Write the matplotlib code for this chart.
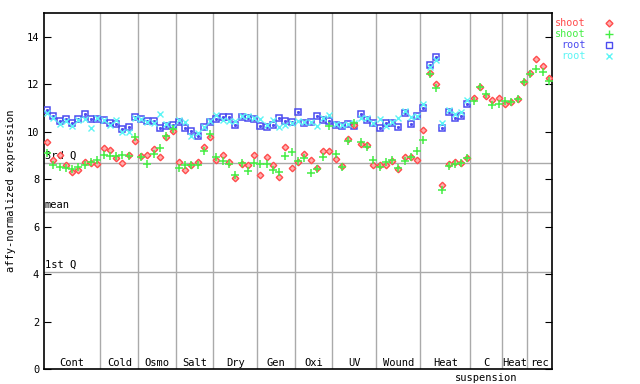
import numpy as np
import matplotlib
matplotlib.use("Agg")
import matplotlib.pyplot as plt
import matplotlib.transforms as mtransforms

plt.rcParams.update({"font.family": "DejaVu Sans Mono", "font.size": 7.5})

RED, GREEN, BLUE, CYAN, GRID = "#ff4c4c", "#44ee44", "#4c4cf0", "#5cf5f5", "#aaaaaa"

# groups and how many samples each holds
groups = ["Cont", "Cold", "Osmo", "Salt", "Dry", "Gen", "Oxi", "UV", "Wound", "Heat", "C\nsuspension", "Heat", "rec"]
group_sizes = [9, 6, 6, 6, 7, 6, 6, 7, 7, 8, 5, 4, 4]

shoot_a = [9.58, 8.80, 9.00, 8.61, 8.30, 8.38, 8.73, 8.68, 8.64,
           9.31, 9.23, 8.89, 8.68, 9.00, 9.59,
           8.99, 9.00, 9.28, 8.94, 9.76, 10.01,
           8.72, 8.38, 8.58, 8.72, 9.37, 9.76,
           8.80, 9.00, 8.72, 8.05, 8.64, 8.58, 9.00,
           8.19, 8.92, 8.58, 8.10, 9.37, 8.47,
           8.72, 9.08, 8.80, 8.49, 9.20, 9.20,
           8.86, 8.55, 9.70, 10.30, 9.48, 9.42, 8.61,
           8.58, 8.58, 8.78, 8.44, 8.94, 8.92, 8.80,
           10.08, 12.47, 12.02, 7.76, 8.63, 8.72, 8.68, 8.90,
           11.43, 11.90, 11.52, 11.35, 11.42,
           11.17, 11.27, 11.39, 12.11,
           12.47, 13.07, 12.78, 12.26]
shoot_b = [9.11, 8.58, 8.52, 8.47, 8.44, 8.52, 8.61, 8.71, 8.80,
           9.01, 8.97, 8.99, 9.03, 8.97, 9.77,
           8.94, 8.64, 9.06, 9.31, 9.80, 10.13,
           8.47, 8.58, 8.58, 8.58, 9.17, 9.90,
           8.94, 8.77, 8.64, 8.16, 8.66, 8.33, 8.66,
           8.64, 8.64, 8.38, 8.30, 8.97, 9.14,
           8.75, 8.89, 8.24, 8.44, 8.94, 10.24,
           9.06, 8.52, 9.62, 10.38, 9.56, 9.34, 8.80,
           8.52, 8.72, 8.80, 8.49, 8.78, 8.92, 9.17,
           9.66, 12.45, 11.84, 7.55, 8.57, 8.65, 8.68, 8.90,
           11.29, 11.89, 11.60, 11.12, 11.18,
           11.28, 11.24, 11.38, 12.10,
           12.45, 12.62, 12.52, 12.12]
root_a = [10.92, 10.66, 10.46, 10.53, 10.37, 10.52, 10.74, 10.55, 10.55,
          10.49, 10.35, 10.31, 10.13, 10.21, 10.63,
          10.52, 10.46, 10.46, 10.16, 10.24, 10.30,
          10.41, 10.16, 10.04, 9.82, 10.18, 10.41,
          10.55, 10.62, 10.62, 10.30, 10.63, 10.58, 10.55,
          10.24, 10.20, 10.30, 10.58, 10.46, 10.41,
          10.83, 10.35, 10.41, 10.66, 10.49, 10.46,
          10.30, 10.24, 10.32, 10.24, 10.74, 10.50, 10.38,
          10.16, 10.35, 10.35, 10.20, 10.77, 10.32, 10.66,
          11.00, 12.83, 13.16, 10.16, 10.82, 10.57, 10.67, 11.18]
root_b = [10.79, 10.58, 10.32, 10.43, 10.25, 10.51, 10.55, 10.16, 10.58,
          10.51, 10.30, 10.51, 9.99, 9.99, 10.58,
          10.55, 10.40, 10.37, 10.74, 10.32, 10.21,
          10.51, 10.41, 9.82, 9.96, 10.18, 10.43,
          10.69, 10.51, 10.46, 10.46, 10.66, 10.66, 10.58,
          10.55, 10.30, 10.51, 10.18, 10.27, 10.35,
          10.46, 10.41, 10.41, 10.24, 10.58, 10.72,
          10.32, 10.27, 10.32, 10.38, 10.58, 10.58, 10.38,
          10.55, 10.22, 10.40, 10.58, 10.85, 10.60, 10.66,
          11.18, 12.73, 13.00, 10.37, 10.90, 10.76, 10.82, 11.35]

quartiles = {"3rd Q": 8.69, "mean": 6.62, "1st Q": 4.09}

n = sum(group_sizes)
xs = np.arange(n) + 0.5
xr = xs[:len(root_a)]

fig = plt.figure(figsize=(6.4, 3.84), dpi=100)
ax = fig.add_axes([44 / 640, 15 / 384, 508 / 640, 356 / 384])
ax.set_xlim(0, n); ax.set_ylim(0, 15)

for v in quartiles.values():
    ax.axhline(v, color=GRID, lw=1, zorder=1)
for b in np.cumsum(group_sizes)[:-1]:
    ax.axvline(b, color=GRID, lw=1, zorder=1)
for name, v in quartiles.items():
    ax.text(0.15, v + 0.1, name, ha="left", va="bottom", fontsize=7.5, zorder=2)

ax.plot(xr, root_a, ls="none", marker="s", ms=4.6, mfc="none", mec=BLUE, mew=1.1, zorder=3)
ax.plot(xr, root_a, ls="none", marker="s", ms=1.1, mfc=BLUE, mec=BLUE, zorder=3)
ax.plot(xr, root_b, ls="none", marker="x", ms=4.6, mec=CYAN, mew=1.0, zorder=3)
ax.plot(xs, shoot_a, ls="none", marker="D", ms=3.3, mfc="#ffb0b0", mec=RED, mew=1.0, zorder=4)
ax.plot(xs, shoot_b, ls="none", marker="+", ms=5.5, mec=GREEN, mew=1.1, zorder=4)

starts = np.concatenate([[0], np.cumsum(group_sizes)])
trans = mtransforms.blended_transform_factory(ax.transData, ax.transAxes)
for g, a, b in zip(groups, starts[:-1], starts[1:]):
    lines = g.split("\n")
    ax.text((a + b) / 2, 0.004, lines[0], transform=trans, ha="center", va="bottom", fontsize=7.5)
    if len(lines) > 1:
        ax.text((a + b) / 2, -0.012, lines[1], transform=trans, ha="center", va="top", fontsize=7.5)

ax.set_xticks([])
ax.set_yticks(range(0, 15, 2))
ax.tick_params(axis="y", direction="in", length=5, right=True, labelsize=7.5)
ax.set_ylabel("affy-normalized expression", fontsize=7.5, labelpad=8)
for s in ax.spines.values():
    s.set_linewidth(1.2)

# legend outside at right
leg = [("shoot", RED, "D"), ("shoot", GREEN, "+"), ("root", BLUE, "s"), ("root", CYAN, "x")]
for k, (lab, c, mk) in enumerate(leg):
    yf = 1 - (23 + 11 * k) / 384
    fig.text(586 / 640, yf, lab, color=c, ha="right", va="center", fontsize=7.3)
    kw = dict(mfc="#ffb0b0" if mk == "D" else "none", mec=c, mew=1.0)
    fig.lines.append(plt.Line2D([609 / 640], [yf], transform=fig.transFigure,
                                ls="none", marker=mk, ms={"D": 3.5, "+": 5.5}.get(mk, 4.5), **kw))

fig.savefig("out.png", dpi=100)
